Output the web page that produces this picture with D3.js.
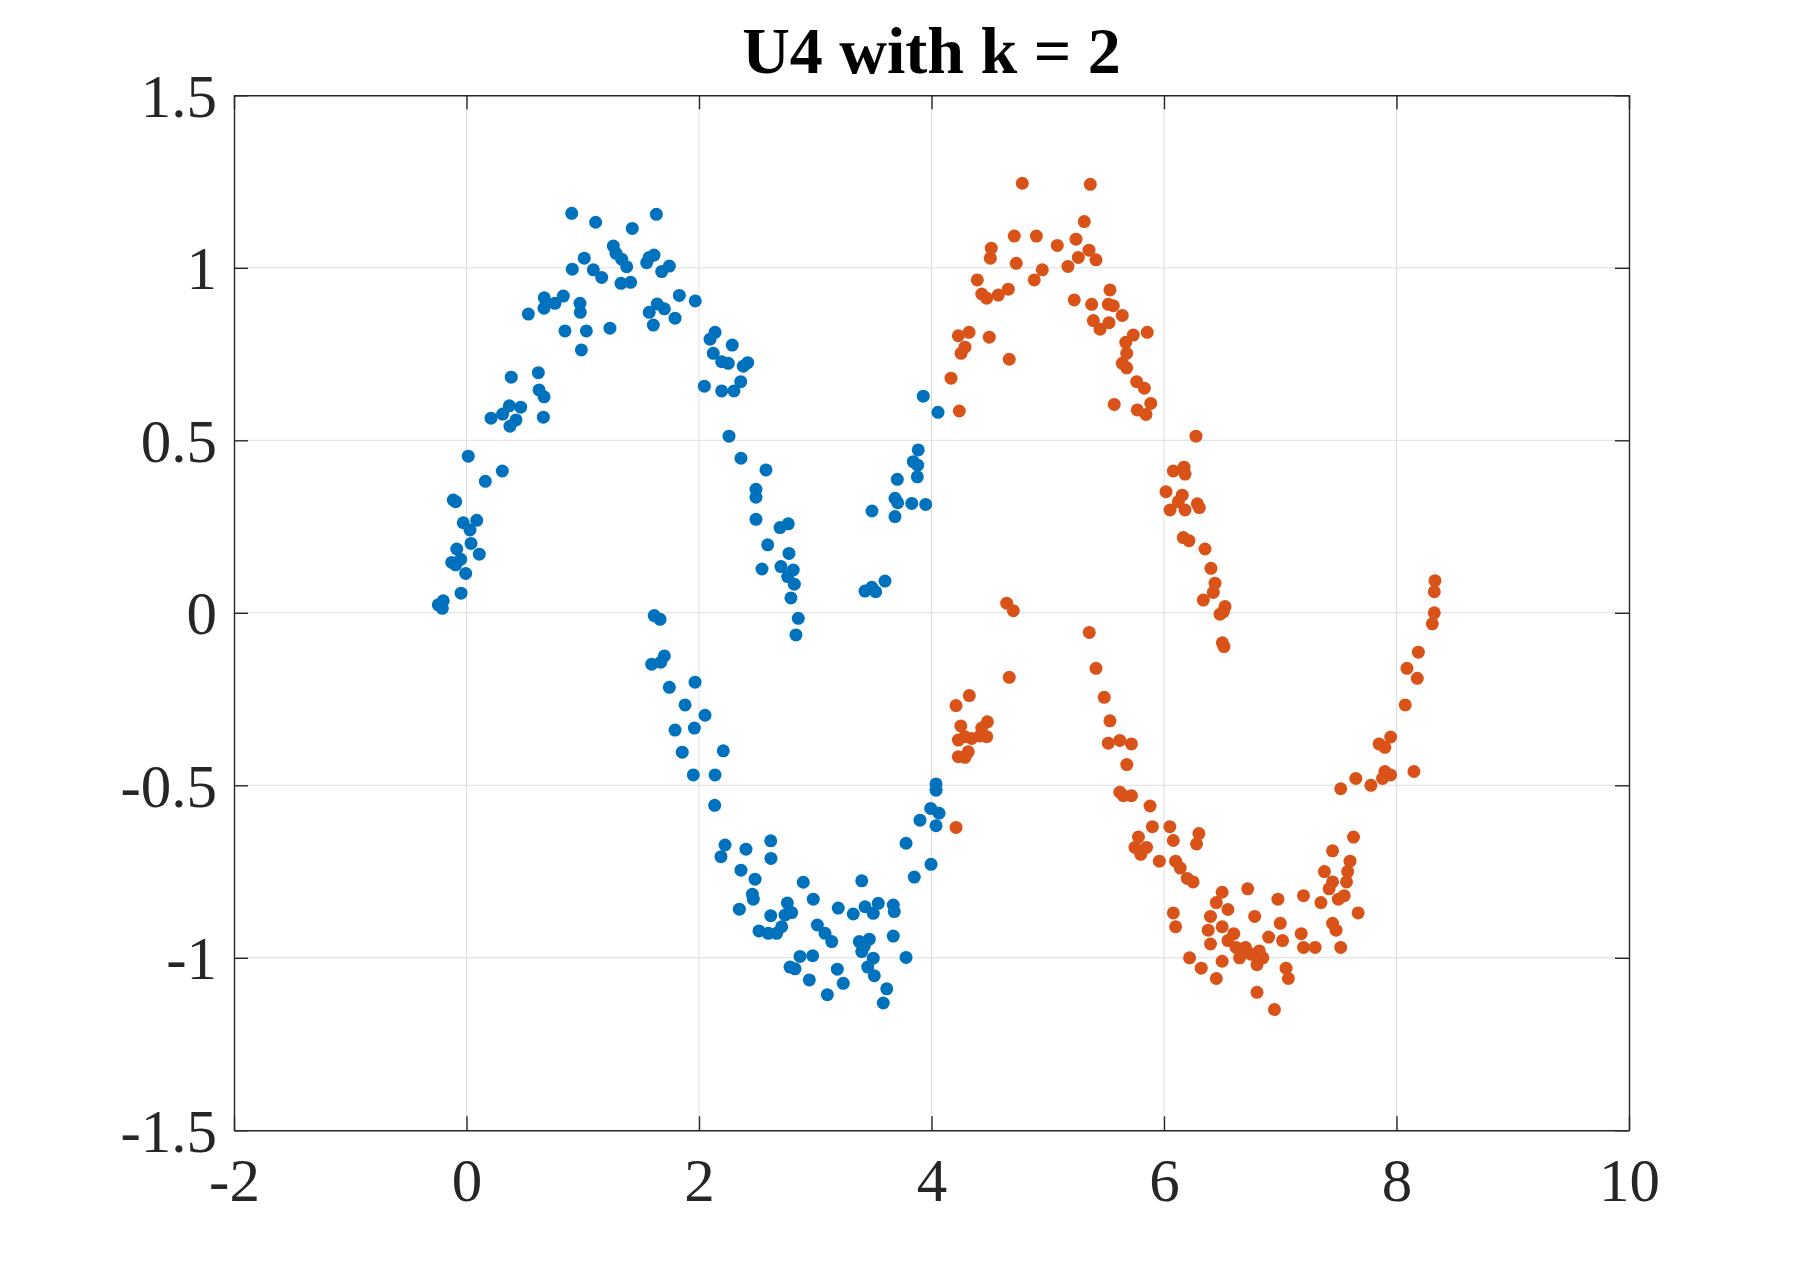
<!DOCTYPE html>
<html><head><meta charset="utf-8">
<script src="https://cdn.jsdelivr.net/npm/d3@7"></script>
<style>body{margin:0;background:#fff}svg{display:block}</style>
</head><body>
<svg id="chart" width="1800" height="1270"></svg>
<script>
const titleText = "U4 with k = 2";
const xTicks = [-2, 0, 2, 4, 6, 8, 10];
const yTicks = [-1.5, -1, -0.5, 0, 0.5, 1, 1.5];
const clusterColors = ["#0072BD", "#D95319"];

// cluster 1 (blue) points [x, y]
const cluster1 = [
[0.905,1.158],[1.111,1.132],[1.426,1.114],[1.633,1.155],[1.263,1.063],[1.286,1.042],[1.335,1.025],[1.378,1.003],[1.013,1.028],[0.910,0.996],[1.091,0.994],[1.163,0.972],[1.329,0.955],[1.412,0.958],[1.550,1.015],[1.572,1.030],[1.613,1.037],[1.679,0.989],[1.745,1.005],[1.831,0.920],[1.968,0.904],[1.641,0.895],[1.702,0.881],[1.572,0.871],[1.794,0.854],[1.607,0.834],[0.669,0.913],[0.833,0.918],[0.761,0.897],[0.667,0.883],[0.532,0.866],[0.976,0.897],[0.979,0.871],[0.847,0.817],[1.031,0.817],[1.234,0.825],[0.988,0.762],[2.138,0.813],[2.095,0.793],[2.286,0.776],[2.123,0.752],[2.195,0.728],[2.252,0.723],[2.381,0.715],[2.419,0.725],[2.359,0.670],[2.046,0.657],[2.195,0.643],[2.301,0.643],[2.258,0.512],[0.385,0.683],[0.618,0.696],[0.624,0.646],[0.667,0.626],[0.466,0.596],[0.368,0.600],[0.311,0.576],[0.211,0.564],[0.426,0.559],[0.374,0.541],[0.661,0.567],
[3.929,0.628],[4.056,0.581],[3.886,0.472],
[0.015,0.454],[0.308,0.411],[0.162,0.381],[-0.114,0.327],[-0.093,0.322],[-0.028,0.261],[0.088,0.268],[0.030,0.240],[0.039,0.201],[-0.084,0.185],[-0.127,0.146],[-0.050,0.155],[-0.093,0.139],[0.110,0.170],[-0.007,0.114],[-0.047,0.057],[-0.200,0.035],[-0.243,0.023],[-0.208,0.013],[2.361,0.448],[2.576,0.414],[2.490,0.358],[2.490,0.335],[2.490,0.271],[2.591,0.197],[2.542,0.127],[1.615,-0.008],[1.665,-0.019],[1.702,-0.125],[1.593,-0.149],[1.671,-0.143],[1.745,-0.216],[1.966,-0.201],[1.880,-0.267],[2.052,-0.297],[1.794,-0.340],[1.960,-0.334],
[3.843,0.438],[3.881,0.428],[3.878,0.394],[3.706,0.387],[3.686,0.332],[3.709,0.319],[3.830,0.317],[3.950,0.314],[3.488,0.295],[3.686,0.279],[2.697,0.247],[2.768,0.258],[2.774,0.172],[2.705,0.134],[2.811,0.124],[2.763,0.105],[2.820,0.083],[2.791,0.043],[2.854,-0.016],[2.834,-0.064],[3.600,0.092],[3.428,0.063],[3.486,0.074],[3.520,0.061],
[1.856,-0.404],[2.209,-0.400],[1.951,-0.470],[2.138,-0.470],[2.135,-0.558],[2.224,-0.673],[2.189,-0.707],[2.404,-0.685],[2.361,-0.746],[2.482,-0.772],[2.459,-0.816],[2.467,-0.830],[2.347,-0.859],[2.516,-0.922],
[4.039,-0.496],[4.039,-0.514],[3.993,-0.567],[4.065,-0.581],[3.901,-0.601],[4.039,-0.617],[3.781,-0.668],[3.996,-0.729],[3.852,-0.766],[2.617,-0.661],[2.619,-0.712],[2.897,-0.781],[3.400,-0.777],[2.983,-0.830],[2.760,-0.841],[2.797,-0.869],[2.740,-0.876],[2.617,-0.878],[2.711,-0.910],[2.668,-0.929],[2.596,-0.929],[3.198,-0.856],[3.327,-0.873],[3.428,-0.852],[3.499,-0.871],[3.542,-0.842],[3.671,-0.847],[3.680,-0.866],[3.018,-0.905],[3.084,-0.929],[3.142,-0.953],[3.379,-0.953],[3.465,-0.946],[3.422,-0.966],[3.400,-0.982],[3.671,-0.937],[3.499,-1.001],[2.869,-0.996],[2.978,-0.994],[2.783,-1.027],[2.826,-1.032],[3.190,-1.033],[3.451,-1.027],[3.508,-1.052],[3.781,-0.999],[2.949,-1.064],[3.241,-1.074],[3.615,-1.090],[3.104,-1.107],[3.585,-1.131]
];

// cluster 2 (orange) points [x, y]
const cluster2 = [
[4.781,1.245],[5.366,1.242],[5.314,1.134],[4.712,1.092],[4.902,1.092],[5.082,1.065],[5.243,1.083],[4.514,1.057],[4.506,1.028],[4.729,1.013],[4.953,0.994],[5.174,1.004],[5.263,1.030],[5.355,1.051],[5.415,1.023],[4.884,0.965],[4.394,0.965],[4.432,0.924],[4.475,0.912],[4.575,0.921],[4.661,0.938],[5.228,0.907],[5.378,0.894],[5.392,0.847],[5.450,0.822],[4.231,0.803],[4.323,0.813],[4.288,0.770],[4.254,0.752],[4.497,0.799],[4.669,0.735],[4.168,0.680],[4.239,0.585],
[5.535,0.936],[5.521,0.894],[5.564,0.890],[5.641,0.862],[5.527,0.841],[5.856,0.813],[5.736,0.805],[5.671,0.784],[5.679,0.752],[5.641,0.723],[5.679,0.710],[5.765,0.670],[5.831,0.651],[5.572,0.604],[5.886,0.607],[5.770,0.588],[5.845,0.575],[6.275,0.512],
[4.647,0.028],[4.704,0.006],[5.357,-0.057],[5.415,-0.161],[4.669,-0.187],[5.486,-0.245],[4.325,-0.240],[4.211,-0.269],[5.535,-0.313],[4.252,-0.328],[4.481,-0.316],[4.432,-0.334],
[6.080,0.411],[6.172,0.422],[6.181,0.402],[6.017,0.351],[6.157,0.341],[6.123,0.322],[6.052,0.298],[6.181,0.298],[6.287,0.316],[6.304,0.305],[6.166,0.218],[6.215,0.209],[6.353,0.185],[6.404,0.129],[6.439,0.086],[6.424,0.059],[6.338,0.037],[6.525,0.018],[6.511,0.003],[6.482,-0.004],[6.502,-0.087],[6.516,-0.098],[8.331,0.093],[8.325,0.061],[8.325,0.000],[8.308,-0.032],[8.188,-0.114],[8.090,-0.161],[8.179,-0.190],[8.075,-0.267],
[4.231,-0.369],[4.288,-0.359],[4.346,-0.364],[4.417,-0.357],[4.475,-0.359],[4.316,-0.403],[4.231,-0.417],[4.288,-0.419],[4.211,-0.622],[5.521,-0.378],
[5.62,-0.37],[5.72,-0.38],[5.68,-0.44],[5.62,-0.52],[5.65,-0.53],[5.72,-0.53],[5.88,-0.56],[5.9,-0.62],[5.78,-0.65],[5.75,-0.68],[5.8,-0.7],[5.85,-0.68],[5.96,-0.72],[6.05,-0.62],[6.08,-0.66],[6.1,-0.72],[6.14,-0.74],[6.2,-0.77],[6.25,-0.78],[6.3,-0.64],[6.28,-0.67],[6.08,-0.87],[6.1,-0.91],[6.22,-1.0],[6.32,-1.03],[6.38,-0.92],[6.4,-0.88],[6.45,-0.84],[6.5,-0.81],[6.4,-0.96],[6.45,-1.06],[6.5,-0.91],[6.55,-0.86],[6.55,-0.95],[6.5,-1.01],[6.6,-0.93],[6.62,-0.97],[6.65,-1.0],[6.7,-0.97],[6.75,-0.99],[6.8,-1.02],[6.82,-0.98],[6.78,-0.88],[6.72,-0.8],[6.85,-1.0],[6.9,-0.94],[6.8,-1.1],[6.95,-1.15],[7.0,-0.9],[7.02,-0.95],[7.05,-1.03],[7.07,-1.06],[6.98,-0.83],[7.18,-0.93],[7.2,-0.97],[7.2,-0.82],[7.3,-0.97],[7.35,-0.84],[7.38,-0.75],[7.42,-0.8],[7.45,-0.78],[7.45,-0.9],[7.48,-0.92],[7.52,-0.97],[7.5,-0.83],[7.55,-0.82],[7.57,-0.78],[7.58,-0.75],[7.45,-0.69],[7.6,-0.72],[7.63,-0.65],[7.67,-0.87],[7.52,-0.51],[7.65,-0.48],[7.78,-0.5],[7.88,-0.48],[7.9,-0.46],[8.15,-0.46],[7.85,-0.38],[7.9,-0.39],[7.95,-0.36],[7.95,-0.47]
];

const W = 1800, H = 1270;
const plot = {left: 234, right: 1629, top: 95.3, bottom: 1130.3};
const svg = d3.select("#chart");
const x = d3.scaleLinear().domain([-2, 10]).range([plot.left, plot.right]);
const y = d3.scaleLinear().domain([-1.5, 1.5]).range([plot.bottom, plot.top]);
const axisColor = "#262626";
const fontFam = "'Liberation Serif','Times New Roman',serif";

// grid
const grid = svg.append("g").attr("stroke", "#dedede").attr("stroke-width", 1);
grid.selectAll("line.gx").data(xTicks.slice(1, -1)).join("line")
  .attr("x1", d => x(d)).attr("x2", d => x(d)).attr("y1", plot.top).attr("y2", plot.bottom);
grid.selectAll("line.gy").data(yTicks.slice(1, -1)).join("line")
  .attr("y1", d => y(d)).attr("y2", d => y(d)).attr("x1", plot.left).attr("x2", plot.right);

// points
const groups = [cluster1, cluster2];
groups.forEach((pts, i) => {
  svg.append("g").selectAll("circle").data(pts).join("circle")
    .attr("cx", d => x(d[0])).attr("cy", d => y(d[1])).attr("r", 6.5)
    .attr("fill", clusterColors[i]);
});

const fmt = d => String(d);
function styleAxis(g) {
  g.selectAll(".domain").attr("stroke", axisColor).attr("stroke-width", 1.4);
  g.selectAll(".tick line").attr("stroke", axisColor).attr("stroke-width", 1.4);
  g.selectAll("text").attr("fill", axisColor).style("font-family", fontFam).style("font-size", "61px");
}
const gB = svg.append("g").attr("transform", `translate(0,${plot.bottom})`)
  .call(d3.axisBottom(x).tickValues(xTicks).tickFormat(fmt).tickSize(-14).tickSizeOuter(0));
styleAxis(gB);
gB.selectAll("text").attr("y", 70.5).attr("dy", 0);

const gT = svg.append("g").attr("transform", `translate(0,${plot.top})`)
  .call(d3.axisTop(x).tickValues(xTicks).tickFormat("").tickSize(-14).tickSizeOuter(0));
styleAxis(gT);

const gL = svg.append("g").attr("transform", `translate(${plot.left},0)`)
  .call(d3.axisLeft(y).tickValues(yTicks).tickFormat(fmt).tickSize(-14).tickSizeOuter(0));
styleAxis(gL);
gL.selectAll("text").attr("x", -17).attr("dy", "0.345em");

const gR = svg.append("g").attr("transform", `translate(${plot.right},0)`)
  .call(d3.axisRight(y).tickValues(yTicks).tickFormat("").tickSize(-14).tickSizeOuter(0));
styleAxis(gR);

svg.append("text").attr("x", (plot.left + plot.right) / 2).attr("y", 73.3)
  .attr("text-anchor", "middle").attr("fill", "#000")
  .style("font-family", fontFam).style("font-size", "66px").style("font-weight", "bold")
  .text(titleText);
</script>
</body></html>
